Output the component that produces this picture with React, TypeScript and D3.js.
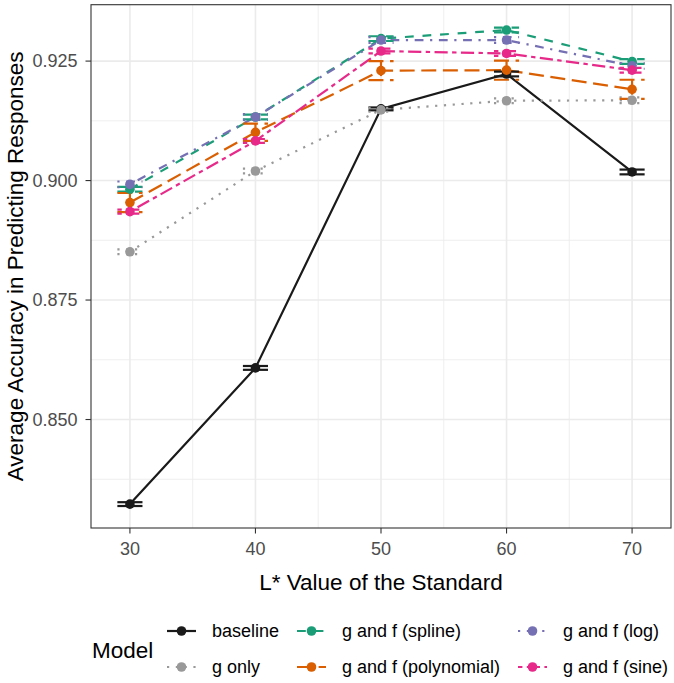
import React from "react";
import * as d3 from "d3";

const xValues = [30, 40, 50, 60, 70];
const xTicks = [30, 40, 50, 60, 70];
const yTicks = [0.85, 0.875, 0.9, 0.925];
const yMinorTicks = [0.8375, 0.8625, 0.8875, 0.9125];
const xMinorTicks = [35, 45, 55, 65];

const seriesNames = [
  "baseline",
  "g only",
  "g and f (spline)",
  "g and f (polynomial)",
  "g and f (log)",
  "g and f (sine)",
];
const seriesColors = ["#1A1A1A", "#999999", "#1B9E77", "#D95F02", "#7570B3", "#E7298A"];
const seriesDash = ["", "2.2,6.6", "8.8,8.8", "15,6.6", "2.2,6.6,8.8,6.6", "4.4,4.4,13.2,4.4"];

const baselineVals = [0.8323, 0.8608, 0.915, 0.9223, 0.9018];
const gOnlyVals = [0.8851, 0.902, 0.9148, 0.9167, 0.9168];
const splineVals = [0.8982, 0.9133, 0.9297, 0.9315, 0.9249];
const polynomialVals = [0.8954, 0.9101, 0.923, 0.9231, 0.9191];
const logVals = [0.8992, 0.9133, 0.9294, 0.9294, 0.924];
const sineVals = [0.8935, 0.9083, 0.9271, 0.9266, 0.9231];

const baselineErr = [0.0004, 0.0004, 0.0003, 0.0005, 0.0005];
const gOnlyErr = [0.0005, 0.0005, 0.0004, 0.0005, 0.0006];
const splineErr = [0.0005, 0.0005, 0.0005, 0.0005, 0.0005];
const polynomialErr = [0.002, 0.0018, 0.002, 0.002, 0.002];
const logErr = [0.0006, 0.0006, 0.0006, 0.0006, 0.0006];
const sineErr = [0.0004, 0.0004, 0.0005, 0.0005, 0.0005];

const allVals = [baselineVals, gOnlyVals, splineVals, polynomialVals, logVals, sineVals];
const allErr = [baselineErr, gOnlyErr, splineErr, polynomialErr, logErr, sineErr];

const W = 674;
const H = 683;
const panel = { left: 91, right: 671, top: 4.7, bottom: 528 };
const FONT = "'Liberation Sans', Arial, Helvetica, sans-serif";

export default function App() {
  const x = d3.scaleLinear().domain([26.9, 73.1]).range([panel.left, panel.right]);
  const y = d3.scaleLinear().domain([0.8273, 0.9368]).range([panel.bottom, panel.top]);
  const line = d3
    .line<number>()
    .x((_, i) => x(xValues[i]))
    .y((d) => y(d));
  const lw = 2.2;

  // legend layout
  const legendRows = [631, 667];
  const keyX = [167, 297, 518];
  const keyW = 29;
  const labelOffset = 45;

  return (
    <svg
      width={W}
      height={H}
      style={{ position: "absolute", left: 0, top: 0, background: "#fff" }}
      fontFamily={FONT}
    >
      <rect x={0} y={0} width={W} height={H} fill="#fff" />
      {/* grid */}
      <g>
        {yMinorTicks.map((t) => (
          <line key={"ym" + t} x1={panel.left} x2={panel.right} y1={y(t)} y2={y(t)} stroke="#EBEBEB" strokeWidth={0.8} />
        ))}
        {xMinorTicks.map((t) => (
          <line key={"xm" + t} y1={panel.top} y2={panel.bottom} x1={x(t)} x2={x(t)} stroke="#EBEBEB" strokeWidth={0.8} />
        ))}
        {yTicks.map((t) => (
          <line key={"y" + t} x1={panel.left} x2={panel.right} y1={y(t)} y2={y(t)} stroke="#EBEBEB" strokeWidth={1.6} />
        ))}
        {xTicks.map((t) => (
          <line key={"x" + t} y1={panel.top} y2={panel.bottom} x1={x(t)} x2={x(t)} stroke="#EBEBEB" strokeWidth={1.6} />
        ))}
      </g>
      {/* lines */}
      <g fill="none">
        {allVals.map((vals, s) => (
          <path
            key={"l" + s}
            d={line(vals) || ""}
            stroke={seriesColors[s]}
            strokeWidth={lw}
            strokeDasharray={seriesDash[s] || undefined}
          />
        ))}
      </g>
      {/* error bars */}
      <g fill="none">
        {allVals.map((vals, s) =>
          vals.map((v, i) => {
            const e = allErr[s][i];
            const cx = xValues[i];
            return (
              <g key={"e" + s + "-" + i} stroke={seriesColors[s]} strokeWidth={lw} strokeDasharray={seriesDash[s] || undefined}>
                <line x1={x(cx - 1)} x2={x(cx + 1)} y1={y(v + e)} y2={y(v + e)} />
                <line x1={x(cx - 1)} x2={x(cx + 1)} y1={y(v - e)} y2={y(v - e)} />
                <line x1={x(cx)} x2={x(cx)} y1={y(v + e)} y2={y(v - e)} />
              </g>
            );
          })
        )}
      </g>
      {/* points */}
      <g>
        {allVals.map((vals, s) =>
          vals.map((v, i) => (
            <circle key={"p" + s + "-" + i} cx={x(xValues[i])} cy={y(v)} r={4.8} fill={seriesColors[s]} />
          ))
        )}
      </g>
      {/* panel border */}
      <rect
        x={panel.left}
        y={panel.top}
        width={panel.right - panel.left}
        height={panel.bottom - panel.top}
        fill="none"
        stroke="#333333"
        strokeWidth={1.1}
      />
      {/* y axis */}
      <g>
        {yTicks.map((t) => (
          <g key={"yt" + t}>
            <line x1={panel.left - 5.5} x2={panel.left} y1={y(t)} y2={y(t)} stroke="#333333" strokeWidth={1.1} />
            <text x={panel.left - 13.5} y={y(t)} dy="0.35em" textAnchor="end" fontSize={18} fill="#4D4D4D">
              {d3.format(".3f")(t)}
            </text>
          </g>
        ))}
      </g>
      {/* x axis */}
      <g>
        {xTicks.map((t) => (
          <g key={"xt" + t}>
            <line y1={panel.bottom} y2={panel.bottom + 5.5} x1={x(t)} x2={x(t)} stroke="#333333" strokeWidth={1.1} />
            <text x={x(t)} y={555} textAnchor="middle" fontSize={18} fill="#4D4D4D">
              {t}
            </text>
          </g>
        ))}
      </g>
      <text x={(panel.left + panel.right) / 2} y={590} textAnchor="middle" fontSize={22.5} fill="#000">
        L* Value of the Standard
      </text>
      <text
        transform={`translate(23, ${(panel.top + panel.bottom) / 2}) rotate(-90)`}
        textAnchor="middle"
        fontSize={22.5}
        fill="#000"
      >
        Average Accuracy in Predicting Responses
      </text>
      {/* legend */}
      <text x={92} y={658} fontSize={22.5} fill="#000">
        Model
      </text>
      {seriesNames.map((name, s) => {
        const col = Math.floor(s / 2);
        const row = s % 2;
        const kx = keyX[col];
        const ky = legendRows[row];
        return (
          <g key={"lg" + s}>
            <line
              x1={kx}
              x2={kx + keyW}
              y1={ky}
              y2={ky}
              stroke={seriesColors[s]}
              strokeWidth={lw}
              strokeDasharray={seriesDash[s] || undefined}
            />
            <circle cx={kx + keyW / 2} cy={ky} r={4.8} fill={seriesColors[s]} />
            <text x={kx + labelOffset} y={ky} dy="0.35em" fontSize={18} fill="#000">
              {name}
            </text>
          </g>
        );
      })}
    </svg>
  );
}
